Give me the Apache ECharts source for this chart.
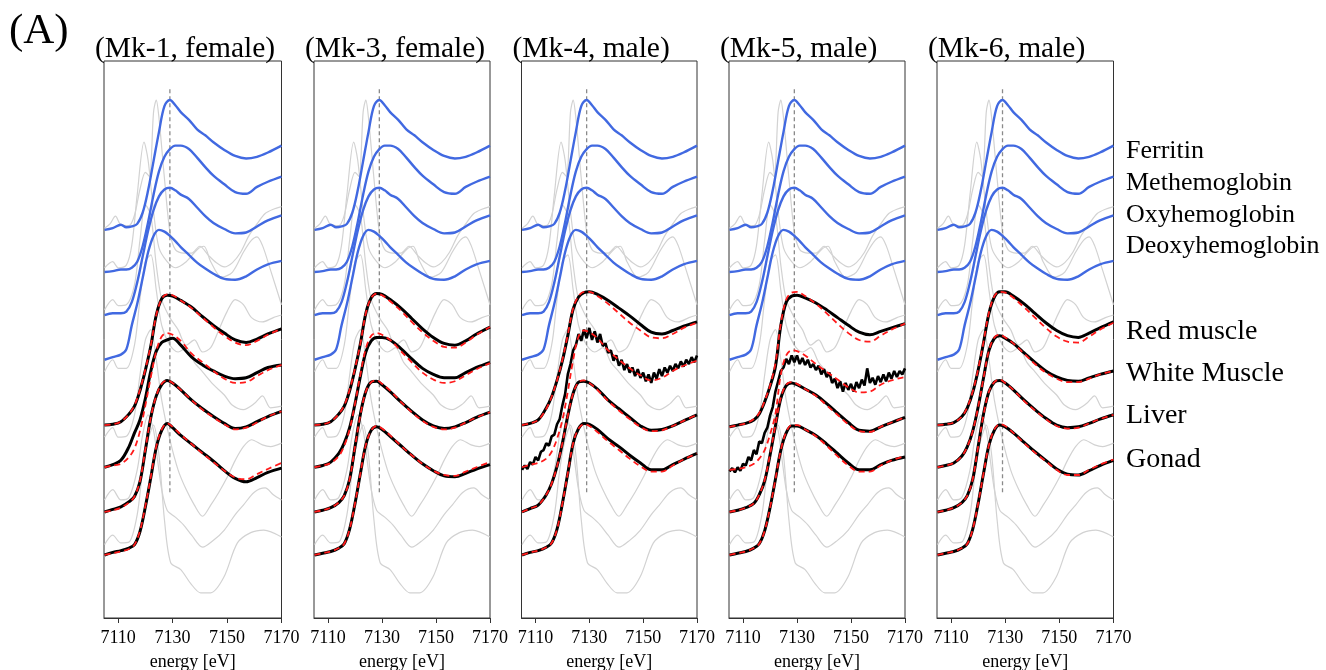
<!DOCTYPE html>
<html>
<head>
<meta charset="utf-8">
<script src="https://cdn.jsdelivr.net/npm/echarts@6/dist/echarts.min.js"></script>
<style>
html, body { margin: 0; background: #fff; }
#chart { width: 1326px; height: 670px; }
</style>
</head>
<body>
<div id="chart"></div>
<script>
// panel titles, tick labels, curve names
var panelTitles = ['(Mk-1, female)', '(Mk-3, female)', '(Mk-4, male)', '(Mk-5, male)', '(Mk-6, male)'];
var xTicks = [7110, 7130, 7150, 7170];
var stdNames = ['Ferritin', 'Methemoglobin', 'Oxyhemoglobin', 'Deoxyhemoglobin'];
var sampleNames = ['Red muscle', 'White Muscle', 'Liver', 'Gonad'];

// vertical offsets of the stacked spectra (normalized units)
var stdOffsets = [3.78, 3.29, 2.79, 2.27];
var sampleOffsets = [1.51, 1.02, 0.5, 0];
var peakEnergy = 7129;
var peakLineRange = [0.73, 5.43];

// reference standards (blue), same in every panel
var energyStd = [7105, 7108, 7111, 7113, 7115, 7117, 7119, 7121, 7123, 7125, 7127, 7129, 7131, 7133, 7136, 7139, 7142, 7145, 7149, 7153, 7157, 7161, 7165, 7170];
var ferritin = [0, 0.02, 0.06, 0.03, 0.04, 0.07, 0.2, 0.46, 0.8, 1.14, 1.44, 1.51, 1.45, 1.37, 1.28, 1.17, 1.1, 1.02, 0.93, 0.86, 0.83, 0.85, 0.9, 0.98];
var methemoglobin = [0, 0.01, 0.03, 0.03, 0.05, 0.12, 0.3, 0.58, 0.9, 1.17, 1.34, 1.43, 1.47, 1.47, 1.43, 1.33, 1.22, 1.12, 1.02, 0.93, 0.91, 0.99, 1.05, 1.11];
var oxyhemoglobin = [0, 0.02, 0.02, 0.04, 0.15, 0.38, 0.68, 0.98, 1.22, 1.38, 1.46, 1.48, 1.45, 1.4, 1.35, 1.25, 1.15, 1.07, 1.0, 0.95, 0.96, 1.03, 1.1, 1.16];
var deoxyhemoglobin = [0, 0.03, 0.06, 0.12, 0.4, 0.65, 0.95, 1.25, 1.44, 1.51, 1.49, 1.44, 1.38, 1.31, 1.22, 1.13, 1.06, 1.0, 0.94, 0.93, 0.97, 1.05, 1.11, 1.15];

// light grey background spectra, [energy, absorbance] (same in every panel)
var gray1 = [[7105,3.80],[7107,3.85],[7109,3.94],[7111,3.84],[7114,3.83],[7116,3.95],[7118,4.25],[7120,4.45],[7121.5,4.40],[7123,5.15],[7124,5.29],[7125,5.08],[7127,4.38],[7129,3.76],[7131,3.55],[7134,3.51],[7137,3.51],[7140,3.59],[7143,3.49],[7146,3.40],[7149,3.35],[7152,3.40],[7155,3.52],[7158,3.71],[7161,3.85],[7164,3.97],[7167,4.02],[7170,4.05]];
var gray2 = [[7105,3.34],[7108,3.41],[7110,3.34],[7113,3.37],[7115,3.60],[7117,4.19],[7119.5,4.80],[7121,4.59],[7123,3.99],[7125,3.57],[7128,3.41],[7131,3.34],[7135,3.41],[7139,3.55],[7141.5,3.59],[7144,3.41],[7148,3.23],[7152,3.29],[7156,3.52],[7159,3.66],[7161,3.70],[7163,3.60],[7166,3.31],[7170,2.91]];
var gray3 = [[7105,2.85],[7108,2.97],[7110,2.90],[7113,2.91],[7116,3.14],[7118,3.66],[7120,4.07],[7122,3.95],[7124,3.37],[7126,2.97],[7129,2.76],[7132,2.62],[7135,2.44],[7138,2.50],[7141,2.36],[7144,2.41],[7147,2.62],[7150,2.83],[7153,2.97],[7156,2.91],[7159,2.76],[7163,2.71],[7167,2.76],[7170,2.79]];
var gray4 = [[7105,2.13],[7108,2.27],[7110,2.17],[7113,2.17],[7116,2.44],[7118,2.97],[7120,3.41],[7122,3.49],[7124,3.08],[7126,2.67],[7129,2.44],[7132,2.36],[7135,2.41],[7138,2.24],[7141,2.13],[7145,1.98],[7149,1.86],[7152,1.74],[7156,1.69],[7160,1.76],[7163,1.85],[7166,1.71],[7170,1.73]];
var gray5 = [[7105,1.37],[7108,1.48],[7110,1.37],[7113,1.38],[7116,1.63],[7118,2.09],[7120,2.50],[7122,2.62],[7124,2.27],[7126,1.80],[7129,1.34],[7132,0.99],[7135,0.76],[7138,0.58],[7141,0.45],[7144,0.58],[7147,0.73],[7150,0.90],[7153,1.10],[7156,1.26],[7159,1.34],[7163,1.28],[7166,1.26],[7170,1.30]];
var gray6 = [[7105,0.64],[7108,0.76],[7111,0.64],[7114,0.67],[7117,0.99],[7119,1.40],[7121,1.63],[7123,1.45],[7124.5,1.10],[7126,0.76],[7128,0.52],[7131,0.44],[7134,0.35],[7137,0.23],[7141,0.09],[7145,0.17],[7149,0.29],[7153,0.47],[7156,0.58],[7160,0.73],[7164,0.78],[7167,0.70],[7170,0.64]];
var gray7 = [[7105,0.12],[7108,0.23],[7111,0.14],[7114,0.15],[7117,0.47],[7119,0.99],[7121,1.34],[7123,1.51],[7125,1.16],[7127,0.41],[7129.3,-0.09],[7133,-0.17],[7136.6,-0.33],[7140.3,-0.44],[7144,-0.44],[7148.8,-0.26],[7153.8,0.14],[7158.7,0.26],[7163.5,0.29],[7170,0.21]];

// sample spectra (black) and fits (red dashed), relative to their offset
var energy = [7105, 7108, 7111, 7114, 7116, 7118, 7120, 7122, 7124, 7126, 7128, 7130, 7133, 7137, 7141, 7145, 7149, 7153, 7157, 7161, 7165, 7170];

var mk1_red      = [0, 0.01, 0.04, 0.13, 0.22, 0.4, 0.64, 0.92, 1.28, 1.47, 1.51, 1.5, 1.45, 1.37, 1.26, 1.16, 1.07, 0.99, 0.96, 1.0, 1.06, 1.12];
var mk1_red_fit  = [0, 0.01, 0.04, 0.13, 0.23, 0.41, 0.65, 0.93, 1.28, 1.47, 1.52, 1.51, 1.45, 1.36, 1.25, 1.14, 1.04, 0.96, 0.93, 0.98, 1.05, 1.12];
var mk1_white    = [0, 0.03, 0.08, 0.24, 0.4, 0.55, 0.8, 1.12, 1.35, 1.45, 1.48, 1.5, 1.42, 1.28, 1.19, 1.12, 1.06, 1.03, 1.04, 1.1, 1.16, 1.19];
var mk1_white_fit= [0, 0.02, 0.04, 0.12, 0.22, 0.42, 0.72, 1.05, 1.35, 1.52, 1.56, 1.54, 1.47, 1.32, 1.22, 1.12, 1.03, 0.98, 0.99, 1.06, 1.13, 1.19];
var mk1_liver    = [0, 0.03, 0.06, 0.12, 0.18, 0.35, 0.72, 1.1, 1.35, 1.48, 1.53, 1.5, 1.42, 1.3, 1.2, 1.11, 1.03, 0.97, 0.99, 1.05, 1.11, 1.17];
var mk1_liver_fit= [0, 0.02, 0.05, 0.11, 0.18, 0.36, 0.73, 1.1, 1.35, 1.49, 1.53, 1.5, 1.42, 1.3, 1.19, 1.1, 1.02, 0.96, 0.98, 1.04, 1.11, 1.17];
var mk1_gonad    = [0, 0.03, 0.05, 0.08, 0.12, 0.27, 0.56, 0.9, 1.25, 1.45, 1.53, 1.48, 1.39, 1.29, 1.19, 1.09, 0.98, 0.89, 0.85, 0.9, 0.96, 1.01];
var mk1_gonad_fit= [0, 0.02, 0.04, 0.07, 0.12, 0.28, 0.57, 0.91, 1.26, 1.46, 1.53, 1.49, 1.4, 1.29, 1.18, 1.08, 0.98, 0.9, 0.88, 0.94, 1.0, 1.07];

var mk3_red      = [0, 0.01, 0.04, 0.13, 0.22, 0.4, 0.65, 0.95, 1.3, 1.48, 1.53, 1.52, 1.46, 1.36, 1.24, 1.12, 1.02, 0.95, 0.93, 0.98, 1.06, 1.14];
var mk3_red_fit  = [0, 0.01, 0.04, 0.13, 0.23, 0.41, 0.66, 0.95, 1.3, 1.48, 1.53, 1.51, 1.44, 1.33, 1.2, 1.08, 0.98, 0.91, 0.9, 0.96, 1.05, 1.14];
var mk3_white    = [0, 0.02, 0.06, 0.16, 0.28, 0.46, 0.74, 1.06, 1.34, 1.47, 1.51, 1.51, 1.48, 1.38, 1.26, 1.15, 1.08, 1.04, 1.04, 1.1, 1.16, 1.22];
var mk3_white_fit= [0, 0.02, 0.05, 0.13, 0.25, 0.44, 0.74, 1.08, 1.38, 1.53, 1.56, 1.54, 1.48, 1.35, 1.22, 1.1, 1.02, 0.98, 1.0, 1.07, 1.14, 1.21];
var mk3_liver    = [0, 0.02, 0.05, 0.11, 0.19, 0.38, 0.76, 1.14, 1.4, 1.51, 1.52, 1.48, 1.4, 1.28, 1.17, 1.07, 1.0, 0.97, 0.99, 1.04, 1.1, 1.16];
var mk3_liver_fit= [0, 0.02, 0.05, 0.11, 0.19, 0.38, 0.76, 1.13, 1.4, 1.51, 1.53, 1.49, 1.41, 1.28, 1.16, 1.06, 0.99, 0.96, 0.98, 1.04, 1.1, 1.16];
var mk3_gonad    = [0, 0.02, 0.04, 0.08, 0.13, 0.3, 0.6, 0.95, 1.28, 1.45, 1.49, 1.46, 1.38, 1.27, 1.16, 1.06, 0.98, 0.92, 0.91, 0.95, 1.0, 1.05];
var mk3_gonad_fit= [0, 0.02, 0.04, 0.08, 0.13, 0.3, 0.6, 0.95, 1.28, 1.45, 1.5, 1.47, 1.39, 1.27, 1.16, 1.06, 0.98, 0.93, 0.92, 0.97, 1.02, 1.08];

var mk4_red      = [0, 0.02, 0.06, 0.2, 0.33, 0.52, 0.75, 1.04, 1.35, 1.49, 1.54, 1.55, 1.52, 1.45, 1.36, 1.27, 1.17, 1.08, 1.06, 1.1, 1.15, 1.2];
var mk4_red_fit  = [0, 0.02, 0.06, 0.19, 0.33, 0.52, 0.76, 1.05, 1.36, 1.5, 1.55, 1.55, 1.5, 1.41, 1.3, 1.19, 1.1, 1.02, 1.01, 1.06, 1.13, 1.19];
var mk4_white_fit= [0, 0.03, 0.05, 0.1, 0.18, 0.33, 0.55, 0.88, 1.25, 1.52, 1.59, 1.57, 1.5, 1.36, 1.25, 1.15, 1.07, 1.01, 1.04, 1.12, 1.18, 1.24];
var mk4_liver    = [0, 0.04, 0.08, 0.2, 0.33, 0.53, 0.8, 1.12, 1.38, 1.51, 1.52, 1.5, 1.43, 1.3, 1.2, 1.1, 1.0, 0.95, 0.96, 1.0, 1.06, 1.13];
var mk4_liver_fit= [0, 0.04, 0.08, 0.2, 0.33, 0.53, 0.8, 1.12, 1.38, 1.51, 1.53, 1.5, 1.42, 1.29, 1.18, 1.08, 0.99, 0.94, 0.95, 1.0, 1.06, 1.13];
var mk4_gonad    = [0, 0.03, 0.05, 0.09, 0.14, 0.3, 0.6, 0.95, 1.3, 1.47, 1.53, 1.52, 1.46, 1.35, 1.26, 1.16, 1.07, 0.99, 0.99, 1.05, 1.11, 1.18];
var mk4_gonad_fit= [0, 0.03, 0.05, 0.09, 0.14, 0.3, 0.6, 0.95, 1.3, 1.47, 1.52, 1.5, 1.43, 1.32, 1.22, 1.12, 1.03, 0.97, 0.97, 1.04, 1.11, 1.18];

var mk5_red      = [-0.02, 0.0, 0.02, 0.06, 0.13, 0.27, 0.45, 0.68, 1.16, 1.43, 1.5, 1.51, 1.48, 1.42, 1.34, 1.25, 1.16, 1.08, 1.05, 1.09, 1.13, 1.18];
var mk5_red_fit  = [-0.02, 0.0, 0.02, 0.07, 0.14, 0.28, 0.46, 0.72, 1.18, 1.46, 1.54, 1.55, 1.5, 1.41, 1.3, 1.18, 1.07, 0.99, 0.97, 1.04, 1.11, 1.18];
var mk5_white_fit= [-0.03, -0.02, 0.0, 0.04, 0.1, 0.2, 0.38, 0.62, 1.08, 1.3, 1.36, 1.35, 1.3, 1.2, 1.11, 1.02, 0.93, 0.87, 0.88, 0.96, 1.01, 1.05];
var mk5_liver    = [0, 0.02, 0.05, 0.1, 0.2, 0.36, 0.66, 1.0, 1.32, 1.47, 1.5, 1.48, 1.43, 1.36, 1.26, 1.15, 1.04, 0.95, 0.94, 0.99, 1.04, 1.1];
var mk5_liver_fit= [0, 0.02, 0.05, 0.1, 0.2, 0.37, 0.67, 1.01, 1.33, 1.48, 1.51, 1.49, 1.43, 1.35, 1.24, 1.13, 1.02, 0.94, 0.93, 0.99, 1.04, 1.1];
var mk5_gonad    = [0, 0.02, 0.04, 0.08, 0.13, 0.28, 0.55, 0.88, 1.22, 1.42, 1.5, 1.5, 1.46, 1.39, 1.29, 1.18, 1.07, 0.99, 0.99, 1.05, 1.1, 1.14];
var mk5_gonad_fit= [0, 0.02, 0.04, 0.08, 0.13, 0.28, 0.55, 0.88, 1.22, 1.43, 1.51, 1.51, 1.46, 1.38, 1.27, 1.15, 1.04, 0.97, 0.97, 1.04, 1.1, 1.15];

var mk6_red      = [0, 0.01, 0.03, 0.1, 0.2, 0.38, 0.64, 0.96, 1.3, 1.49, 1.55, 1.55, 1.5, 1.41, 1.3, 1.19, 1.1, 1.04, 1.02, 1.07, 1.13, 1.2];
var mk6_red_fit  = [0, 0.01, 0.03, 0.1, 0.21, 0.39, 0.65, 0.97, 1.31, 1.5, 1.55, 1.54, 1.48, 1.37, 1.25, 1.13, 1.03, 0.97, 0.96, 1.03, 1.11, 1.19];
var mk6_white    = [0, 0.02, 0.05, 0.13, 0.24, 0.42, 0.7, 1.04, 1.36, 1.5, 1.53, 1.5, 1.44, 1.33, 1.22, 1.12, 1.05, 1.01, 1.0, 1.04, 1.08, 1.12];
var mk6_white_fit= [0, 0.02, 0.05, 0.13, 0.24, 0.42, 0.7, 1.04, 1.36, 1.51, 1.54, 1.51, 1.44, 1.32, 1.2, 1.1, 1.03, 0.99, 0.99, 1.03, 1.08, 1.12];
var mk6_liver    = [0, 0.02, 0.05, 0.11, 0.19, 0.38, 0.76, 1.14, 1.4, 1.51, 1.53, 1.5, 1.42, 1.3, 1.19, 1.09, 1.01, 0.98, 0.99, 1.03, 1.08, 1.13];
var mk6_liver_fit= [0, 0.02, 0.05, 0.11, 0.19, 0.38, 0.76, 1.13, 1.4, 1.51, 1.54, 1.5, 1.42, 1.29, 1.18, 1.08, 1.0, 0.97, 0.98, 1.03, 1.08, 1.13];
var mk6_gonad    = [0, 0.02, 0.04, 0.08, 0.13, 0.3, 0.6, 0.95, 1.28, 1.45, 1.51, 1.49, 1.42, 1.31, 1.2, 1.1, 1.0, 0.94, 0.93, 0.98, 1.04, 1.1];
var mk6_gonad_fit= [0, 0.02, 0.04, 0.08, 0.13, 0.3, 0.6, 0.95, 1.28, 1.46, 1.52, 1.5, 1.42, 1.3, 1.19, 1.09, 0.99, 0.93, 0.93, 0.99, 1.05, 1.11];

// noisy white muscle scans, one point per eV from 7105 to 7170
var mk4_white = [-0.03, 0.02, -0.02, 0.06, 0.03, 0.12, 0.08, 0.18, 0.2, 0.28, 0.25, 0.36, 0.38, 0.5, 0.56, 0.72, 0.85, 1.08, 1.2, 1.36, 1.42, 1.55, 1.47, 1.6, 1.5, 1.62, 1.48, 1.58, 1.45, 1.55, 1.41, 1.44, 1.33, 1.36, 1.24, 1.3, 1.18, 1.25, 1.13, 1.2, 1.1, 1.16, 1.06, 1.14, 1.04, 1.1, 1.0, 1.08, 0.98, 1.1, 1.03, 1.14, 1.06, 1.16, 1.1, 1.18, 1.12, 1.2, 1.15, 1.23, 1.17, 1.25, 1.2, 1.28, 1.22, 1.3];
var mk5_white = [-0.05, -0.01, -0.06, 0.0, -0.04, 0.04, 0.02, 0.12, 0.08, 0.2, 0.15, 0.3, 0.28, 0.4, 0.46, 0.6, 0.7, 0.88, 1.0, 1.12, 1.16, 1.26, 1.2, 1.3, 1.22, 1.3, 1.2, 1.27, 1.19, 1.25, 1.16, 1.2, 1.13, 1.18, 1.08, 1.14, 1.05, 1.1, 0.98, 1.03, 0.92, 1.0, 0.88, 0.98, 0.9, 0.97, 0.88, 0.99, 0.92, 1.02, 0.95, 1.15, 0.98, 1.04, 0.96, 1.06, 0.99, 1.08, 1.0, 1.1, 1.03, 1.12, 1.05, 1.12, 1.08, 1.15];

var energyDense = [];
for (var e = 7105; e <= 7170; e++) energyDense.push(e);

var panels = [
    { black: [mk1_red, mk1_white, mk1_liver, mk1_gonad], fit: [mk1_red_fit, mk1_white_fit, mk1_liver_fit, mk1_gonad_fit] },
    { black: [mk3_red, mk3_white, mk3_liver, mk3_gonad], fit: [mk3_red_fit, mk3_white_fit, mk3_liver_fit, mk3_gonad_fit] },
    { black: [mk4_red, mk4_white, mk4_liver, mk4_gonad], fit: [mk4_red_fit, mk4_white_fit, mk4_liver_fit, mk4_gonad_fit] },
    { black: [mk5_red, mk5_white, mk5_liver, mk5_gonad], fit: [mk5_red_fit, mk5_white_fit, mk5_liver_fit, mk5_gonad_fit] },
    { black: [mk6_red, mk6_white, mk6_liver, mk6_gonad], fit: [mk6_red_fit, mk6_white_fit, mk6_liver_fit, mk6_gonad_fit] }
];
var standards = [ferritin, methemoglobin, oxyhemoglobin, deoxyhemoglobin];
var grays = [gray1, gray2, gray3, gray4, gray5, gray6, gray7];

// layout
var serif = "'Liberation Serif', 'DejaVu Serif', serif";
var gridLefts = [104, 314, 521.5, 729, 937];
var gridWidths = [177.5, 176, 175.5, 176, 176.5];
var gridTop = 61, gridHeight = 557;

function withOffset(xs, ys, off) {
    var out = [];
    for (var i = 0; i < ys.length; i++) out.push([xs[i], ys[i] + off]);
    return out;
}

function line(gi, data, color, width, type, z, smooth) {
    return {
        type: 'line', xAxisIndex: gi, yAxisIndex: gi, data: data,
        symbol: 'none', smooth: smooth, silent: true, z: z,
        lineStyle: { color: color, width: width, type: type }
    };
}

var grid = [], xAxis = [], yAxis = [], series = [], title = [];

title.push({ text: '(A)', left: 9, top: 10, padding: 0, textStyle: { fontFamily: serif, fontSize: 43, fontWeight: 'normal', color: '#000' } });

for (var p = 0; p < 5; p++) {
    grid.push({ left: gridLefts[p], top: gridTop, width: gridWidths[p], height: gridHeight,
        containLabel: false, outerBoundsMode: 'none',
        show: true, borderColor: '#333', borderWidth: 1, backgroundColor: '#fff' });
    xAxis.push({
        gridIndex: p, type: 'value', min: 7104.8, max: 7170, position: 'bottom',
        name: 'energy [eV]', nameLocation: 'middle', nameGap: 35,
        nameTextStyle: { fontFamily: serif, fontSize: 18, color: '#000' },
        axisLine: { show: true, onZero: false, lineStyle: { color: '#333', width: 1 } },
        axisTick: { show: true, customValues: xTicks, length: 5, lineStyle: { color: '#333' } },
        axisLabel: { customValues: xTicks, margin: 11, fontFamily: serif, fontSize: 18, color: '#000',
            formatter: function(v) { return String(v); } },
        splitLine: { show: false }
    });
    yAxis.push({ gridIndex: p, type: 'value', min: -0.733, max: 5.744, show: false, splitLine: { show: false } });
    title.push({ text: panelTitles[p], left: gridLefts[p] - 9, top: 34, padding: 0, textStyle: { fontFamily: serif, fontSize: 29.5, fontWeight: 'normal', color: '#000' } });

    for (var g = 0; g < grays.length; g++) {
        series.push(line(p, grays[g], '#d2d2d2', 1.2, 'solid', 1, 0.3));
    }
    series.push(line(p, [[peakEnergy, peakLineRange[0]], [peakEnergy, peakLineRange[1]]], '#8a8a8a', 1.3, [4, 3], 2, false));
    for (var s = 0; s < 4; s++) {
        series.push(line(p, withOffset(energyStd, standards[s], stdOffsets[s]), '#4169e1', 2.4, 'solid', 3, 0.35));
    }
    for (var k = 0; k < 4; k++) {
        var b = panels[p].black[k];
        var dense = b.length === energyDense.length;
        series.push(line(p, withOffset(dense ? energyDense : energy, b, sampleOffsets[k]), '#000', dense ? 2.6 : 3, 'solid', 4, dense ? false : 0.35));
        series.push(line(p, withOffset(energy, panels[p].fit[k], sampleOffsets[k]), '#ff1a1a', 1.8, [6, 4], 5, 0.35));
    }
}

var labelYs = [150, 182, 214, 245, 331, 373, 415, 459];
var labelNames = stdNames.concat(sampleNames);
var graphic = [];
for (var i = 0; i < labelNames.length; i++) {
    graphic.push({
        type: 'text', left: 1126, top: labelYs[i] - (i < 4 ? 12 : 13),
        style: { text: labelNames[i], font: (i < 4 ? 26 : 28) + 'px ' + serif, fill: '#000' }
    });
}

var myChart = echarts.init(document.getElementById('chart'));
myChart.setOption({
    animation: false,
    backgroundColor: '#fff',
    title: title,
    grid: grid,
    xAxis: xAxis,
    yAxis: yAxis,
    series: series,
    graphic: graphic
});
</script>
</body>
</html>
